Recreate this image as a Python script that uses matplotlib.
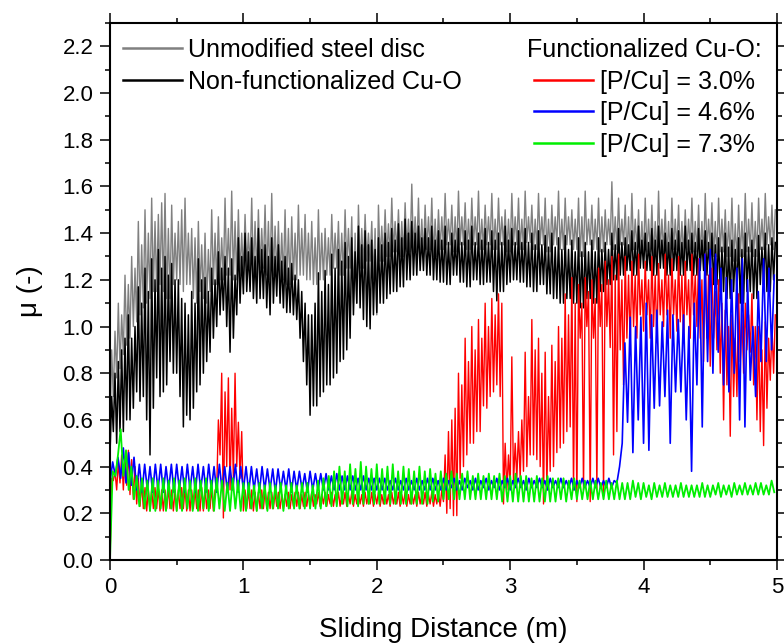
import numpy as np
import matplotlib
matplotlib.use('Agg')
import matplotlib.pyplot as plt
from matplotlib.ticker import MultipleLocator, FormatStrFormatter

plt.rcParams['font.family'] = ['Liberation Sans', 'DejaVu Sans']

STEP_A = 0.0125  # steel disc, non-functionalized, 3.0 %
STEP_B = 0.02    # 4.6 %, 7.3 %

# friction coefficient (alternating troughs / peaks),
# one row = 0.2 m for the STEP_A traces
mu_steel = [
    0.55, 0.90, 0.70, 0.98, 0.78, 1.10, 0.82, 1.05, 0.88, 1.22, 0.92, 1.18, 0.95, 1.30, 1.00, 1.25,
    1.02, 1.45, 1.05, 1.35, 1.08, 1.50, 1.10, 1.40, 1.12, 1.55, 1.15, 1.45, 1.15, 1.48, 1.18, 1.53,
    1.15, 1.57, 1.12, 1.42, 1.12, 1.52, 1.18, 1.40, 1.20, 1.45, 1.18, 1.50, 1.15, 1.55, 1.18, 1.40,
    1.18, 1.42, 1.12, 1.38, 1.10, 1.45, 1.15, 1.35, 1.12, 1.40, 1.10, 1.33, 1.15, 1.50, 1.18, 1.40,
    1.18, 1.47, 1.20, 1.38, 1.20, 1.55, 1.22, 1.42, 1.22, 1.58, 1.20, 1.45, 1.20, 1.50, 1.22, 1.40,
    1.22, 1.48, 1.25, 1.40, 1.25, 1.55, 1.22, 1.45, 1.22, 1.50, 1.25, 1.42, 1.25, 1.52, 1.22, 1.45,
    1.20, 1.57, 1.22, 1.43, 1.22, 1.45, 1.20, 1.40, 1.20, 1.50, 1.18, 1.42, 1.18, 1.47, 1.20, 1.40,
    1.20, 1.52, 1.22, 1.42, 1.22, 1.48, 1.20, 1.40, 1.20, 1.45, 1.18, 1.38, 1.18, 1.50, 1.20, 1.40,
    1.20, 1.42, 1.22, 1.38, 1.22, 1.48, 1.25, 1.40, 1.25, 1.45, 1.22, 1.40, 1.22, 1.50, 1.25, 1.42,
    1.25, 1.47, 1.10, 1.40, 1.10, 1.52, 1.25, 1.42, 1.25, 1.48, 1.28, 1.40, 1.28, 1.45, 1.20, 1.42,
    1.05, 1.52, 1.28, 1.43, 1.28, 1.50, 1.30, 1.44, 1.30, 1.55, 1.32, 1.45, 1.32, 1.50, 1.30, 1.45,
    1.30, 1.53, 1.32, 1.46, 1.32, 1.61, 1.32, 1.47, 1.32, 1.55, 1.30, 1.46, 1.30, 1.52, 1.33, 1.47,
    1.33, 1.55, 1.30, 1.46, 1.30, 1.50, 1.33, 1.47, 1.33, 1.57, 1.35, 1.46, 1.35, 1.52, 1.32, 1.47,
    1.32, 1.58, 1.35, 1.47, 1.35, 1.53, 1.33, 1.46, 1.33, 1.55, 1.35, 1.47, 1.35, 1.58, 1.33, 1.46,
    1.33, 1.52, 1.35, 1.47, 1.35, 1.57, 1.33, 1.46, 1.33, 1.55, 1.35, 1.47, 1.35, 1.50, 1.32, 1.46,
    1.32, 1.57, 1.35, 1.47, 1.35, 1.55, 1.33, 1.46, 1.33, 1.58, 1.36, 1.47, 1.36, 1.52, 1.33, 1.46,
    1.33, 1.57, 1.35, 1.47, 1.35, 1.55, 1.32, 1.46, 1.32, 1.52, 1.35, 1.47, 1.35, 1.58, 1.33, 1.46,
    1.33, 1.55, 1.35, 1.47, 1.35, 1.50, 1.33, 1.46, 1.33, 1.55, 1.30, 1.47, 1.30, 1.58, 1.35, 1.46,
    1.35, 1.52, 1.33, 1.46, 1.33, 1.55, 1.32, 1.47, 1.32, 1.50, 1.35, 1.46, 1.35, 1.62, 1.33, 1.47,
    1.33, 1.55, 1.35, 1.46, 1.35, 1.52, 1.30, 1.47, 1.30, 1.57, 1.33, 1.46, 1.33, 1.50, 1.30, 1.45,
    1.30, 1.55, 1.32, 1.46, 1.32, 1.52, 1.30, 1.45, 1.30, 1.58, 1.32, 1.46, 1.32, 1.50, 1.30, 1.45,
    1.30, 1.55, 1.33, 1.46, 1.33, 1.52, 1.30, 1.45, 1.30, 1.50, 1.33, 1.46, 1.33, 1.55, 1.32, 1.45,
    1.32, 1.52, 1.30, 1.45, 1.30, 1.57, 1.33, 1.46, 1.33, 1.53, 1.30, 1.45, 1.30, 1.55, 1.32, 1.46,
    1.32, 1.50, 1.30, 1.45, 1.30, 1.55, 1.28, 1.44, 1.28, 1.52, 1.30, 1.45, 1.30, 1.57, 1.32, 1.46,
    1.32, 1.53, 1.30, 1.45, 1.30, 1.55, 1.33, 1.46, 1.33, 1.57, 1.35, 1.47, 1.35, 1.52, 1.33, 1.50,
]

mu_nonfunc = [
    0.45, 0.70, 0.55, 0.80, 0.50, 0.85, 0.55, 0.90, 0.55, 0.95, 0.60, 1.05, 0.60, 0.95, 0.65, 1.00,
    0.72, 1.17, 0.68, 1.10, 0.70, 1.25, 0.60, 1.15, 0.45, 1.29, 0.65, 1.20, 0.78, 1.33, 0.70, 1.25,
    0.72, 1.30, 0.75, 1.22, 0.85, 1.27, 0.80, 1.20, 0.80, 1.20, 0.70, 1.12, 0.57, 1.10, 0.62, 1.05,
    0.60, 1.15, 0.65, 1.10, 0.72, 1.29, 0.75, 1.20, 0.80, 1.21, 0.85, 1.15, 0.89, 1.25, 0.95, 1.20,
    1.00, 1.32, 1.05, 1.25, 1.07, 1.30, 1.00, 1.25, 0.89, 1.29, 0.95, 1.22, 1.05, 1.38, 1.10, 1.30,
    1.14, 1.40, 1.15, 1.32, 1.15, 1.38, 1.12, 1.30, 1.10, 1.42, 1.12, 1.33, 1.12, 1.35, 1.08, 1.30,
    1.05, 1.38, 1.10, 1.30, 1.13, 1.35, 1.10, 1.28, 1.08, 1.30, 1.06, 1.25, 1.06, 1.27, 1.05, 1.22,
    1.03, 1.20, 0.95, 1.15, 0.85, 1.10, 0.75, 1.05, 0.62, 1.05, 0.66, 1.10, 0.66, 1.23, 0.70, 1.15,
    0.72, 1.24, 0.75, 1.18, 0.75, 1.31, 0.78, 1.25, 0.80, 1.33, 0.85, 1.28, 0.86, 1.36, 0.90, 1.30,
    0.95, 1.38, 1.05, 1.32, 1.10, 1.43, 1.08, 1.35, 1.03, 1.41, 1.00, 1.35, 0.99, 1.37, 1.05, 1.33,
    1.06, 1.38, 1.10, 1.35, 1.10, 1.40, 1.12, 1.36, 1.14, 1.42, 1.15, 1.37, 1.15, 1.44, 1.17, 1.38,
    1.17, 1.46, 1.20, 1.40, 1.20, 1.45, 1.22, 1.40, 1.22, 1.43, 1.24, 1.38, 1.24, 1.42, 1.22, 1.38,
    1.22, 1.43, 1.20, 1.37, 1.20, 1.41, 1.19, 1.37, 1.19, 1.43, 1.18, 1.36, 1.18, 1.40, 1.22, 1.37,
    1.22, 1.42, 1.19, 1.36, 1.19, 1.41, 1.17, 1.37, 1.17, 1.43, 1.20, 1.36, 1.20, 1.40, 1.18, 1.37,
    1.18, 1.42, 1.19, 1.36, 1.19, 1.41, 1.15, 1.37, 1.11, 1.40, 1.15, 1.36, 1.15, 1.43, 1.18, 1.37,
    1.19, 1.42, 1.20, 1.36, 1.20, 1.41, 1.19, 1.36, 1.19, 1.42, 1.17, 1.36, 1.17, 1.40, 1.15, 1.35,
    1.15, 1.41, 1.18, 1.35, 1.18, 1.39, 1.14, 1.34, 1.14, 1.40, 1.12, 1.34, 1.12, 1.38, 1.10, 1.33,
    1.10, 1.39, 1.12, 1.33, 1.12, 1.37, 1.10, 1.32, 1.10, 1.38, 1.08, 1.32, 1.08, 1.36, 1.12, 1.32,
    1.12, 1.37, 1.10, 1.32, 1.10, 1.38, 1.15, 1.33, 1.15, 1.36, 1.18, 1.33, 1.18, 1.40, 1.20, 1.35,
    1.20, 1.42, 1.22, 1.36, 1.22, 1.38, 1.24, 1.35, 1.24, 1.41, 1.22, 1.36, 1.22, 1.43, 1.25, 1.37,
    1.25, 1.40, 1.24, 1.36, 1.24, 1.42, 1.22, 1.37, 1.22, 1.43, 1.25, 1.37, 1.25, 1.40, 1.22, 1.36,
    1.22, 1.42, 1.24, 1.37, 1.24, 1.41, 1.22, 1.36, 1.22, 1.43, 1.24, 1.37, 1.24, 1.40, 1.22, 1.36,
    1.22, 1.42, 1.24, 1.37, 1.24, 1.41, 1.22, 1.36, 1.22, 1.40, 1.18, 1.35, 1.18, 1.38, 1.15, 1.34,
    1.15, 1.40, 1.12, 1.34, 1.12, 1.37, 1.15, 1.33, 1.15, 1.38, 1.10, 1.33, 1.10, 1.40, 1.15, 1.34,
    1.15, 1.37, 1.12, 1.33, 1.12, 1.39, 1.18, 1.34, 1.18, 1.40, 1.15, 1.35, 1.15, 1.38, 1.20, 1.36,
]

mu_p30 = [
    0.00, 0.35, 0.34, 0.38, 0.30, 0.42, 0.33, 0.45, 0.30, 0.44, 0.32, 0.47, 0.28, 0.43, 0.26, 0.40,
    0.24, 0.35, 0.23, 0.33, 0.22, 0.31, 0.21, 0.30, 0.21, 0.30, 0.22, 0.31, 0.22, 0.31, 0.21, 0.30,
    0.21, 0.30, 0.22, 0.31, 0.22, 0.30, 0.21, 0.30, 0.21, 0.30, 0.22, 0.31, 0.22, 0.31, 0.21, 0.30,
    0.21, 0.30, 0.22, 0.30, 0.22, 0.30, 0.21, 0.31, 0.21, 0.30, 0.22, 0.30, 0.22, 0.31, 0.21, 0.30,
    0.30, 0.60, 0.45, 0.80, 0.18, 0.72, 0.40, 0.78, 0.30, 0.65, 0.35, 0.80, 0.40, 0.59, 0.35, 0.55,
    0.21, 0.30, 0.22, 0.30, 0.22, 0.30, 0.21, 0.29, 0.21, 0.29, 0.22, 0.30, 0.22, 0.30, 0.22, 0.29,
    0.22, 0.29, 0.22, 0.29, 0.23, 0.29, 0.22, 0.28, 0.22, 0.28, 0.23, 0.29, 0.22, 0.28, 0.23, 0.29,
    0.23, 0.29, 0.22, 0.28, 0.23, 0.29, 0.23, 0.28, 0.24, 0.29, 0.23, 0.28, 0.24, 0.29, 0.23, 0.28,
    0.24, 0.29, 0.23, 0.28, 0.24, 0.29, 0.23, 0.28, 0.24, 0.29, 0.23, 0.28, 0.24, 0.29, 0.23, 0.28,
    0.24, 0.29, 0.23, 0.28, 0.24, 0.29, 0.24, 0.28, 0.23, 0.29, 0.24, 0.28, 0.24, 0.29, 0.23, 0.28,
    0.24, 0.29, 0.23, 0.28, 0.24, 0.29, 0.24, 0.28, 0.23, 0.29, 0.24, 0.28, 0.24, 0.29, 0.23, 0.28,
    0.24, 0.29, 0.23, 0.28, 0.24, 0.29, 0.24, 0.28, 0.23, 0.29, 0.24, 0.28, 0.24, 0.29, 0.23, 0.28,
    0.24, 0.29, 0.23, 0.28, 0.24, 0.29, 0.23, 0.30, 0.25, 0.45, 0.20, 0.55, 0.22, 0.60, 0.19, 0.65,
    0.19, 0.80, 0.35, 0.75, 0.40, 0.95, 0.45, 0.85, 0.50, 1.00, 0.50, 0.90, 0.55, 1.03, 0.55, 0.95,
    0.66, 1.10, 0.65, 1.00, 0.70, 1.12, 0.72, 1.05, 0.75, 1.14, 0.70, 1.10, 0.24, 0.50, 0.30, 0.45,
    0.31, 0.87, 0.33, 0.50, 0.35, 0.55, 0.35, 0.60, 0.38, 0.89, 0.40, 0.70, 0.45, 1.03, 0.45, 0.90,
    0.43, 0.95, 0.40, 0.80, 0.24, 0.89, 0.30, 0.70, 0.38, 0.92, 0.40, 0.85, 0.46, 1.00, 0.48, 0.95,
    0.50, 1.14, 0.55, 1.05, 0.57, 1.21, 0.30, 1.10, 0.25, 1.18, 0.95, 1.10, 0.30, 1.21, 1.00, 1.15,
    0.25, 1.20, 0.95, 1.12, 0.30, 1.25, 1.00, 1.18, 0.28, 1.28, 1.00, 1.20, 0.91, 1.30, 0.45, 1.22,
    0.55, 1.31, 0.90, 1.20, 0.75, 1.30, 0.95, 1.22, 0.93, 1.28, 1.00, 1.22, 0.95, 1.31, 1.05, 1.20,
    0.98, 1.28, 1.05, 1.20, 0.95, 1.30, 1.00, 1.22, 0.93, 1.27, 1.05, 1.20, 1.00, 1.31, 1.05, 1.22,
    0.95, 1.29, 1.05, 1.20, 0.98, 1.30, 1.02, 1.22, 0.93, 1.28, 1.05, 1.20, 0.95, 1.31, 1.05, 1.22,
    1.00, 1.29, 0.95, 1.20, 0.85, 1.31, 0.95, 1.22, 0.83, 1.25, 0.95, 1.15, 0.90, 1.20, 0.80, 1.10,
    0.60, 1.07, 0.75, 1.00, 0.53, 1.05, 0.70, 0.95, 0.70, 1.14, 0.85, 1.05, 0.80, 1.10, 0.90, 1.05,
    0.89, 1.14, 0.75, 1.00, 0.60, 1.00, 0.55, 0.90, 0.49, 1.02, 0.65, 0.95, 0.77, 1.00, 0.80, 1.05,
]

mu_p46 = [
    0.33, 0.42, 0.36, 0.44, 0.35, 0.48, 0.33, 0.46, 0.32, 0.44, 0.30, 0.41, 0.29, 0.41, 0.30, 0.40, 0.29, 0.41, 0.30, 0.41,
    0.29, 0.40, 0.30, 0.41, 0.29, 0.41, 0.30, 0.40, 0.29, 0.41, 0.30, 0.40, 0.29, 0.41, 0.30, 0.40, 0.29, 0.41, 0.30, 0.40,
    0.29, 0.41, 0.30, 0.40, 0.29, 0.40, 0.30, 0.41, 0.29, 0.40, 0.30, 0.40, 0.29, 0.40, 0.30, 0.39, 0.29, 0.40, 0.30, 0.39,
    0.30, 0.39, 0.29, 0.39, 0.30, 0.38, 0.30, 0.39, 0.29, 0.38, 0.30, 0.38, 0.30, 0.37, 0.29, 0.38, 0.30, 0.37, 0.30, 0.37,
    0.30, 0.37, 0.30, 0.36, 0.30, 0.37, 0.30, 0.36, 0.30, 0.36, 0.30, 0.36, 0.30, 0.35, 0.30, 0.36, 0.30, 0.35, 0.30, 0.35,
    0.30, 0.35, 0.30, 0.35, 0.30, 0.34, 0.30, 0.35, 0.30, 0.34, 0.30, 0.35, 0.30, 0.34, 0.30, 0.35, 0.30, 0.34, 0.30, 0.35,
    0.30, 0.35, 0.30, 0.34, 0.30, 0.35, 0.30, 0.34, 0.31, 0.35, 0.30, 0.34, 0.30, 0.35, 0.31, 0.34, 0.30, 0.35, 0.30, 0.34,
    0.31, 0.35, 0.30, 0.34, 0.31, 0.35, 0.30, 0.34, 0.31, 0.35, 0.30, 0.34, 0.31, 0.35, 0.31, 0.34, 0.30, 0.35, 0.31, 0.34,
    0.31, 0.35, 0.31, 0.34, 0.30, 0.35, 0.31, 0.34, 0.31, 0.35, 0.31, 0.34, 0.31, 0.35, 0.30, 0.34, 0.31, 0.35, 0.31, 0.34,
    0.31, 0.35, 0.31, 0.35, 0.31, 0.34, 0.31, 0.35, 0.31, 0.34, 0.33, 0.40, 0.50, 0.93, 0.59, 1.04, 0.46, 1.00, 0.60, 1.04,
    0.50, 1.10, 0.47, 1.05, 0.65, 1.07, 0.66, 1.02, 0.70, 1.07, 0.50, 1.05, 0.72, 1.03, 0.72, 1.05, 0.60, 1.00, 0.38, 1.10,
    0.75, 1.29, 0.57, 1.31, 0.85, 1.33, 0.80, 1.31, 0.89, 1.25, 0.75, 1.21, 0.72, 1.20, 0.80, 1.25, 0.60, 1.29, 0.57, 1.20,
    0.77, 1.00, 0.70, 1.15, 0.85, 1.29, 0.85, 1.25, 0.90, 1.22,
]

mu_p73 = [
    0.00, 0.38, 0.36, 0.45, 0.56, 0.36, 0.47, 0.30, 0.40, 0.26, 0.36, 0.23, 0.35, 0.22, 0.34, 0.21, 0.35, 0.21, 0.34, 0.22,
    0.35, 0.21, 0.34, 0.22, 0.35, 0.21, 0.34, 0.21, 0.35, 0.22, 0.34, 0.21, 0.35, 0.21, 0.34, 0.22, 0.35, 0.21, 0.34, 0.21,
    0.35, 0.22, 0.34, 0.21, 0.33, 0.21, 0.35, 0.22, 0.34, 0.21, 0.33, 0.21, 0.33, 0.22, 0.32, 0.21, 0.33, 0.22, 0.32, 0.21,
    0.33, 0.22, 0.32, 0.22, 0.33, 0.21, 0.32, 0.22, 0.33, 0.22, 0.32, 0.22, 0.33, 0.22, 0.33, 0.22, 0.32, 0.22, 0.34, 0.22,
    0.35, 0.23, 0.36, 0.23, 0.38, 0.23, 0.40, 0.24, 0.38, 0.23, 0.41, 0.24, 0.39, 0.23, 0.42, 0.24, 0.40, 0.24, 0.39, 0.24,
    0.41, 0.24, 0.39, 0.24, 0.40, 0.24, 0.41, 0.24, 0.38, 0.24, 0.40, 0.24, 0.39, 0.24, 0.38, 0.24, 0.40, 0.24, 0.38, 0.24,
    0.39, 0.25, 0.37, 0.25, 0.38, 0.26, 0.37, 0.26, 0.38, 0.26, 0.37, 0.26, 0.37, 0.26, 0.38, 0.26, 0.36, 0.26, 0.37, 0.26,
    0.36, 0.26, 0.37, 0.26, 0.36, 0.26, 0.37, 0.25, 0.36, 0.25, 0.36, 0.25, 0.37, 0.25, 0.36, 0.25, 0.36, 0.25, 0.35, 0.25,
    0.36, 0.25, 0.35, 0.25, 0.36, 0.25, 0.35, 0.25, 0.35, 0.26, 0.35, 0.25, 0.34, 0.26, 0.35, 0.26, 0.34, 0.26, 0.34, 0.26,
    0.34, 0.26, 0.34, 0.26, 0.33, 0.26, 0.34, 0.26, 0.33, 0.26, 0.34, 0.26, 0.33, 0.26, 0.33, 0.26, 0.34, 0.27, 0.33, 0.26,
    0.33, 0.27, 0.32, 0.26, 0.33, 0.27, 0.32, 0.27, 0.33, 0.27, 0.32, 0.27, 0.32, 0.27, 0.33, 0.27, 0.32, 0.27, 0.32, 0.27,
    0.32, 0.27, 0.33, 0.27, 0.32, 0.27, 0.32, 0.28, 0.33, 0.27, 0.32, 0.28, 0.32, 0.27, 0.33, 0.28, 0.32, 0.28, 0.33, 0.28,
    0.32, 0.28, 0.33, 0.28, 0.33, 0.28, 0.32, 0.28, 0.34, 0.29,
]

LABELS = ['Unmodified steel disc', 'Non-functionalized Cu-O',
          '[P/Cu] = 3.0%', '[P/Cu] = 4.6%', '[P/Cu] = 7.3%']
COLORS = ['#808080', '#000000', '#ff0000', '#0000ff', '#00ee00']
WIDTHS = [1.0, 1.1, 1.0, 1.2, 1.3]

series = [(mu_steel, STEP_A), (mu_nonfunc, STEP_A), (mu_p30, STEP_A),
          (mu_p46, STEP_B), (mu_p73, STEP_B)]

fig = plt.figure(figsize=(7.84, 6.43), dpi=100)
ax = fig.add_axes([0.1403, 0.1291, 0.8507, 0.8351])

lines = []
for (mu, step), lab, col, lw in zip(series, LABELS, COLORS, WIDTHS):
    d = np.arange(len(mu)) * step
    ln, = ax.plot(d, mu, color=col, lw=lw, label=lab)
    lines.append(ln)

ax.set_xlim(0, 5)
ax.set_ylim(0, 2.3)
ax.xaxis.set_major_locator(MultipleLocator(1))
ax.xaxis.set_minor_locator(MultipleLocator(0.5))
ax.yaxis.set_major_locator(MultipleLocator(0.2))
ax.yaxis.set_minor_locator(MultipleLocator(0.1))
ax.yaxis.set_major_formatter(FormatStrFormatter('%.1f'))
ax.tick_params(which='both', direction='out', top=True, right=True, width=1.1, labelsize=16, pad=5)
ax.tick_params(which='major', length=7)
ax.tick_params(which='minor', length=3.5)
for s in ax.spines.values():
    s.set_linewidth(1.5)

ax.set_xlabel('Sliding Distance (m)', fontsize=20, labelpad=14)
ax.set_ylabel('μ (-)', fontsize=20, labelpad=14)

leg1 = ax.legend(handles=lines[:2], loc='upper left', bbox_to_anchor=(0.019, 0.972),
                 frameon=False, fontsize=18, borderpad=0, borderaxespad=0,
                 handlelength=2.36, handletextpad=0.25, labelspacing=0.3)
for h in leg1.get_lines():
    h.set_linewidth(1.8)
ax.add_artist(leg1)

leg2 = ax.legend(handles=lines[2:], loc='upper right', bbox_to_anchor=(0.9775, 0.972),
                 frameon=False, fontsize=18, title='Functionalized Cu-O:', title_fontsize=18,
                 borderpad=0, borderaxespad=0, handlelength=2.36, handletextpad=0.25,
                 labelspacing=0.3)
for h in leg2.get_lines():
    h.set_linewidth(1.8)

fig.savefig('out.png', dpi=100)
